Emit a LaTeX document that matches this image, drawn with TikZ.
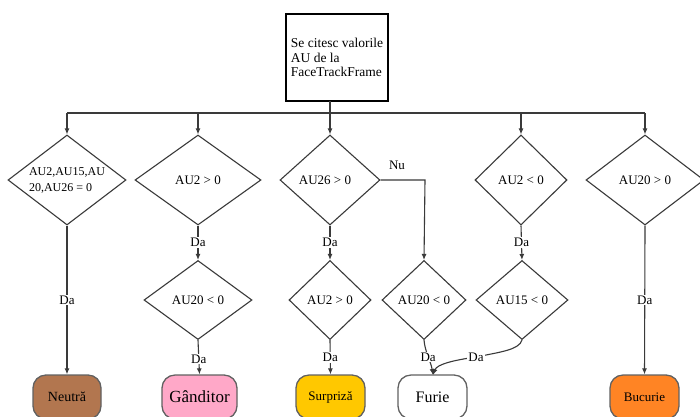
\documentclass[tikz,border=0pt]{standalone}
\usepackage{fontspec}
\setmainfont{Liberation Serif}
\usetikzlibrary{shapes.geometric,arrows.meta}
\definecolor{linec}{HTML}{3A3A3A}
\definecolor{neutc}{HTML}{B2764F}
\definecolor{gandc}{HTML}{FFA8C8}
\definecolor{surpc}{HTML}{FFC800}
\definecolor{bucc}{HTML}{FF8424}
\tikzset{
  dec/.style={shape=diamond, draw=linec, line width=1.1pt, inner sep=0pt, minimum height=90pt, font=\fontsize{13}{14}\selectfont},
  dec2/.style={dec, minimum height=79pt},
  term/.style={draw=linec!80, line width=1.3pt, rounded corners=13pt, minimum height=44pt, inner sep=0pt},
  conn/.style={draw=linec, line width=1.1pt},
  arr/.style={conn, -{Latex[length=6pt,width=5pt]}},
  lbl/.style={fill=white, inner sep=1pt, font=\fontsize{13}{14}\selectfont}
}
\begin{document}
\begin{tikzpicture}[x=1pt,y=-1pt]
\clip (0,0) rectangle (700,416);
\fill[white] (0,0) rectangle (700,416);
% top box
\node[draw=black, line width=1.1pt, minimum width=102pt, minimum height=87pt, inner sep=0pt, align=left, font=\fontsize{13.5}{14.5}\selectfont] (start) at (337,57.5) {Se citesc valorile\\AU de la\\FaceTrackFrame};
\coordinate (drop) at (330,101);
\coordinate (j) at (330,113);
% first row
\node[dec, minimum width=118pt, aspect=1.35, align=left, font=\fontsize{12}{16}\selectfont] (d1) at (67,180) {AU2,AU15,AU\\20,AU26 = 0};
\node[dec, minimum width=126pt] (d2) at (198,180) {AU2 > 0};
\node[dec, minimum width=100pt] (d3) at (330,180) {\hspace*{-10pt}AU26 > 0};
\node[dec, minimum width=92pt] (d4) at (521,180) {AU2 < 0};
\node[dec, minimum width=118pt] (d5) at (645,180) {AU20 > 0};
% second row
\node[dec2, minimum width=108pt] (d6) at (198,300) {AU20 < 0};
\node[dec2, minimum width=82pt] (d7) at (330,300) {AU2 > 0};
\node[dec2, minimum width=84pt] (d8) at (424,300) {AU20 < 0};
\node[dec2, minimum width=92pt] (d9) at (522,300) {AU15 < 0};
% terminals
\node[term, fill=neutc, minimum width=68pt, font=\fontsize{14}{16}\selectfont] (t1) at (67,397) {Neutră};
\node[term, fill=gandc, minimum width=75pt, font=\fontsize{17}{18}\selectfont] (t2) at (199.5,397) {Gânditor};
\node[term, fill=surpc, minimum width=69pt, font=\fontsize{13}{16}\selectfont] (t3) at (330.5,397) {Surpriză};
\node[term, fill=white, minimum width=69pt, font=\fontsize{16}{18}\selectfont] (t4) at (432.5,397) {Furie};
\node[term, fill=bucc, minimum width=69pt, font=\fontsize{13}{16}\selectfont] (t5) at (644.5,397) {Bucurie};
% bus
\draw[conn] (drop) -- (j);
\draw[conn] (d1.north |- j) -- (d5.north |- j);
\foreach \d in {d1,d2,d3,d4,d5} \draw[arr] (\d.north |- j) -- (\d.north);
% edges
\draw[arr] (d1.south) -- node[lbl] {Da} (t1.north);
\draw[arr] (d5.south) -- node[lbl] {Da} (t5.north);
\draw[arr] (d2.south) -- node[lbl] {Da} (d6.north);
\draw[arr] (d6.south) -- node[lbl, pos=0.55] {Da} (t2.north);
\draw[arr] (d3.south) -- node[lbl] {Da} (d7.north);
\draw[arr] (d7.south) -- node[lbl, pos=0.5] {Da} (t3.north);
\draw[arr] (d4.south) -- node[lbl] {Da} (d9.north);
\draw[arr] (d3.east) -- (425,180) -- (d8.north);
\node[font=\fontsize{13}{14}\selectfont] (nu) at (397,165) {Nu};
\coordinate (fin) at (433,375);
\draw[arr] (d8.south) .. controls (425,352) and (431,362) .. node[lbl, pos=0.5] {Da} (fin);
\coordinate (mid) at (476,357);
\draw[conn] (d9.south) .. controls (519,350) and (500,352) .. (mid);
\draw[arr] (mid) .. controls (455,360) and (437,364) .. (fin);
\node[lbl] (da9) at (mid) {Da};
\end{tikzpicture}
\end{document}
